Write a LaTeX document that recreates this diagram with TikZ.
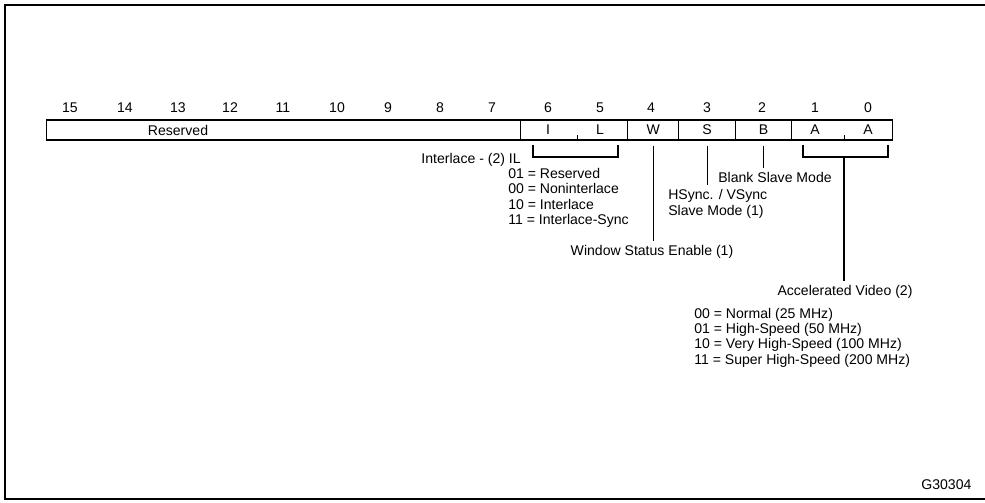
\documentclass[tikz,border=0pt]{standalone}
\usepackage{fontspec}
\setmainfont{Liberation Sans}
\usetikzlibrary{positioning}
\tikzset{
  regfig/.style={
    every node/.append style={font=\fontsize{10}{11}\selectfont},
  },
  field/.style={draw, line width=0.9pt, anchor=west, minimum height=5mm, inner sep=0pt},
  bitnum/.style={inner sep=1pt},
  note/.style={inner sep=3pt, align=left},
  lead/.style={draw, line width=0.9pt},
  frameline/.style={line width=1.8pt},
}

\begin{document}
\begin{tikzpicture}[regfig]
  \useasboundingbox (0,0) rectangle (24.625,12.55);
  \draw[frameline] (24.625,12.425) -- (0.125,12.425) -- (0.125,0.08) -- (24.625,0.08);
  % Bitnummern ueber dem Register
  \foreach \b/\x in {15/1.75, 14/3.125, 13/4.45, 12/5.75, 11/7.075, 10/8.425, 9/9.7, 8/11.0,
                     7/12.3, 6/13.7, 5/15.0, 4/16.275, 3/17.675, 2/19.05, 1/20.375, 0/21.7}
    \node[bitnum] (bit\b) at (\x,9.85) {\b};
  \node[field, minimum width=11.85cm] (Reserved) at (1.15,9.3) {};
  \node (ReservedText) at (4.45,9.3) {Reserved};
  \node[field, minimum width=2.675cm] (IL) at (13.0,9.3) {};
  \node[field, minimum width=1.275cm] (W) at (15.675,9.3) {W};
  \node[field, minimum width=1.425cm] (S) at (16.95,9.3) {S};
  \node[field, minimum width=1.4cm] (B) at (18.375,9.3) {B};
  \node[field, minimum width=2.525cm] (A) at (19.775,9.3) {};
  \node (LetterI) at (bit6 |- IL) {I};
  \node (LetterL) at (bit5 |- IL) {L};
  \node (LetterA1) at (bit1 |- A) {A};
  \node (LetterA0) at (bit0 |- A) {A};
  \draw[lead] ([xshift=0.09cm]IL.south) -- ++(0,0.15);
  \draw[lead] ([xshift=0.05cm]A.south) -- ++(0,0.15);
  % Klammern unter den Zwei-Bit-Feldern
  \coordinate (ILBrkt) at (14.39,8.625);
  \coordinate (AccBrkt) at (21.1,8.625);
  \draw[lead] (13.325,8.925) |- (15.45,8.625) -- (15.45,8.925);
  \draw[lead] (20.075,8.925) |- (22.2,8.625) -- (22.2,8.925);
  \node[note, anchor=base east] (ILLabel) at (13.13,8.45) {Interlace - (2) IL};
  \node[note, anchor=west] (ILCodes) at (12.594,7.6)
    {01 = Reserved\\00 = Noninterlace\\10 = Interlace\\11 = Interlace-Sync};
  \node[note, anchor=north] (WinLabel) at (16.3,6.525) {Window Status Enable (1)};
  \node[note, anchor=north west] (SyncLabel) at (16.594,7.925) {HSync. / VSync\\Slave Mode (1)};
  \node[note, anchor=north] (BlankLabel) at (19.375,8.35) {Blank Slave Mode};
  \node[note, anchor=north] (AccLabel) at (21.125,5.525) {Accelerated Video (2)};
  \node[note, anchor=west] (AccCodes) at (17.245,4.11)
    {00 = Normal (25 MHz)\\01 = High-Speed (50 MHz)\\10 = Very High-Speed (100 MHz)\\11 = Super High-Speed (200 MHz)};
  \draw[lead] ([yshift=-1.25mm]W.south) -- (W.south |- WinLabel.north);
  \draw[lead] ([yshift=-1.25mm]S.south) -- (S.south |- SyncLabel.north);
  \draw[lead] ([yshift=-1.25mm]B.south) -- (B.south |- BlankLabel.north);
  \draw[lead] (AccBrkt) -- (AccBrkt |- AccLabel.north);
  \node (FigId) at (23.66,0.43) {G30304};
\end{tikzpicture}
\end{document}
